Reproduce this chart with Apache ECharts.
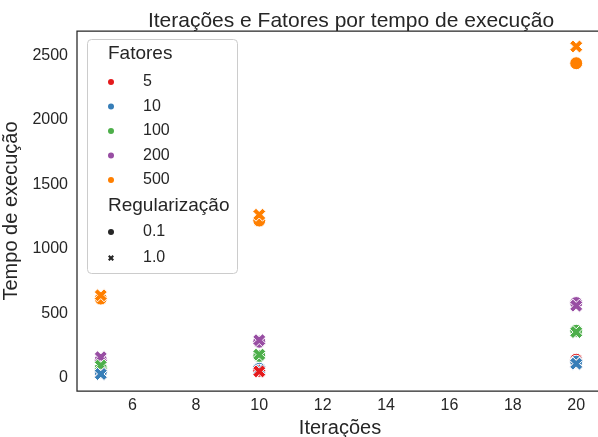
<!DOCTYPE html>
<html>
<head>
<meta charset="utf-8">
<script src="https://cdn.jsdelivr.net/npm/echarts@6/dist/echarts.min.js"></script>
<style>
  html, body { margin: 0; padding: 0; background: #fff; }
  #chart { width: 598px; height: 437px; }
</style>
</head>
<body>
<div id="chart"></div>
<script>
// Iterações (x) e tempo de execução (y) por fator e regularização
const iteracoes = [5, 10, 20];
const fatores = ['5', '10', '100', '200', '500'];
const regularizacoes = ['0.1', '1.0'];

// tempo de execução, um array por (fator, regularização), na ordem de iteracoes
const tempo5_reg01 = [46, 55, 140];
const tempo5_reg10 = [31, 50, 111];
const tempo10_reg01 = [45, 70, 125];
const tempo10_reg10 = [30, 62, 110];
const tempo100_reg01 = [75, 170, 365];
const tempo100_reg10 = [95, 180, 355];
const tempo200_reg01 = [140, 280, 580];
const tempo200_reg10 = [160, 292, 560];
const tempo500_reg01 = [615, 1220, 2440];
const tempo500_reg10 = [640, 1265, 2570];

const xTicks = [6, 8, 10, 12, 14, 16, 18, 20];
const yTicks = [0, 500, 1000, 1500, 2000, 2500];

const tempos = {
  '5':   [tempo5_reg01, tempo5_reg10],
  '10':  [tempo10_reg01, tempo10_reg10],
  '100': [tempo100_reg01, tempo100_reg10],
  '200': [tempo200_reg01, tempo200_reg10],
  '500': [tempo500_reg01, tempo500_reg10]
};

const cores = ['#e41a1c', '#377eb8', '#4daf4a', '#984ea3', '#ff7f00'];
const X_PATH = 'path://M1 0L2 1L3 0L4 1L3 2L4 3L3 4L2 3L1 4L0 3L1 2L0 1Z';
const simbolos = ['circle', X_PATH];
const FONT = 'Liberation Sans, Arial, sans-serif';
const TXT = '#262626';

// circles first, then crosses; inside each group larger times go first
const pontos = [];
regularizacoes.forEach((r, ri) => {
  const grupo = [];
  fatores.forEach((f, fi) => {
    tempos[f][ri].forEach((t, ii) => {
      grupo.push({ x: iteracoes[ii], y: t, cor: cores[fi], simbolo: simbolos[ri] });
    });
  });
  grupo.sort((a, b) => b.y - a.y);
  pontos.push(...grupo);
});

const dadosScatter = pontos.map(p => ({
  value: [p.x, p.y],
  symbol: p.simbolo,
  symbolSize: 13,
  itemStyle: { color: p.cor, borderColor: '#fff', borderWidth: 1, opacity: 1 }
}));

// empty series that only feed the legends
const seriesLegenda = fatores.map((f, fi) => ({
  name: f, type: 'scatter', data: [], symbol: 'circle',
  itemStyle: { color: cores[fi], opacity: 1 }
})).concat(regularizacoes.map((r, ri) => ({
  name: r, type: 'scatter', data: [], symbol: simbolos[ri],
  itemStyle: { color: TXT, opacity: 1 }
})));

const legendaBase = {
  orient: 'vertical',
  left: 108,
  itemWidth: 6,
  itemHeight: 6,
  selectedMode: false,
  itemStyle: { opacity: 1 },
  textStyle: { fontFamily: FONT, fontSize: 16, color: TXT, lineHeight: 16, padding: [0, 0, 0, 24] },
  padding: 0
};

const chart = echarts.init(document.getElementById('chart'), null, { renderer: 'canvas' });
chart.setOption({
  animation: false,
  backgroundColor: '#fff',
  title: {
    text: 'Iterações e Fatores por tempo de execução',
    left: 346, top: 6, textAlign: 'center',
    textStyle: { fontFamily: FONT, fontSize: 21, fontWeight: 'normal', color: TXT }
  },
  grid: {
    left: 77, top: 31, width: 526, height: 360,
    outerBoundsMode: 'none', containLabel: false,
    show: true, borderColor: TXT, borderWidth: 1.25, backgroundColor: 'transparent'
  },
  xAxis: {
    type: 'value', min: 4.25, max: 20.845,
    name: 'Iterações', nameLocation: 'middle', nameGap: 19,
    nameTextStyle: { fontFamily: FONT, fontSize: 20, color: TXT },
    axisLine: { show: false }, axisTick: { show: false }, splitLine: { show: false },
    axisLabel: { customValues: xTicks, formatter: v => String(v), fontFamily: FONT, fontSize: 16, color: TXT, margin: 7 }
  },
  yAxis: {
    type: 'value', min: -102, max: 2690,
    name: 'Tempo de execução', nameLocation: 'middle', nameGap: 44,
    nameTextStyle: { fontFamily: FONT, fontSize: 20, color: TXT },
    axisLine: { show: false }, axisTick: { show: false }, splitLine: { show: false },
    axisLabel: { customValues: yTicks, formatter: v => String(v), fontFamily: FONT, fontSize: 16, color: TXT, margin: 9 }
  },
  legend: [
    Object.assign({}, legendaBase, { data: fatores, top: 74, itemGap: 8.5 }),
    Object.assign({}, legendaBase, { data: regularizacoes, top: 224, itemGap: 10 })
  ],
  graphic: [
    {
      type: 'rect', left: 87, top: 39, z: -1,
      shape: { width: 150, height: 234, r: 4 },
      style: { fill: 'rgba(255,255,255,0.8)', stroke: '#cccccc', lineWidth: 1 }
    },
    {
      type: 'text', left: 108, top: 44,
      style: { text: 'Fatores', fontFamily: FONT, fontSize: 19, fill: TXT }
    },
    {
      type: 'text', left: 108, top: 196,
      style: { text: 'Regularização', fontFamily: FONT, fontSize: 19, fill: TXT }
    }
  ],
  series: [{
    type: 'scatter',
    itemStyle: { opacity: 1 },
    data: dadosScatter
  }].concat(seriesLegenda)
});
</script>
</body>
</html>
